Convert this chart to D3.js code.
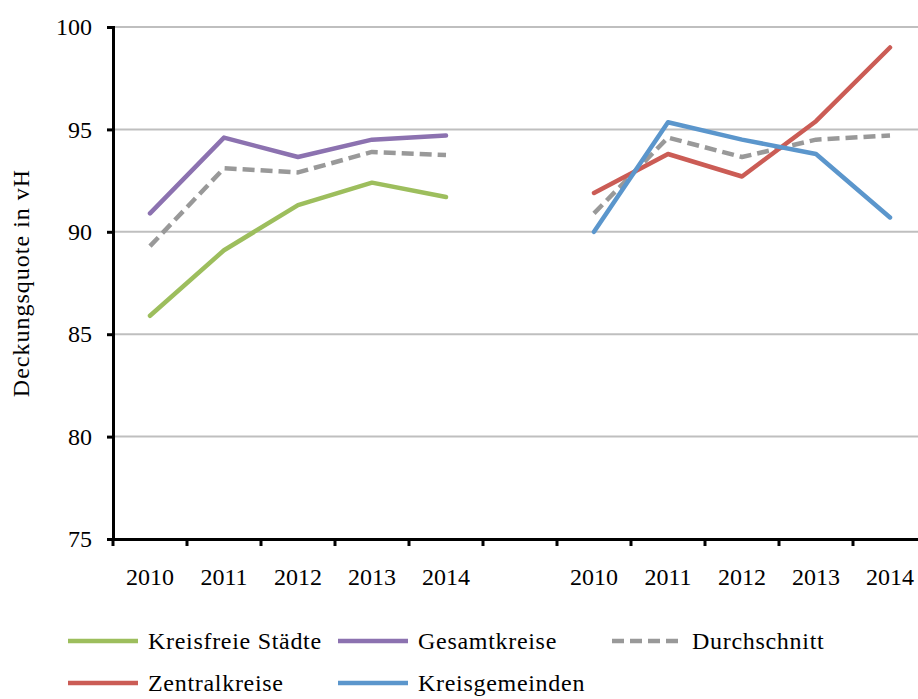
<!DOCTYPE html>
<html>
<head>
<meta charset="utf-8">
<script src="https://cdn.jsdelivr.net/npm/d3@7/dist/d3.min.js"></script>
<style>
  html, body { margin: 0; padding: 0; background: #fff; }
  svg { display: block; }
  text { font-family: "Liberation Serif", "Times New Roman", serif; fill: #000; }
</style>
</head>
<body>
<div id="chart"></div>
<script>
// ---- Data ----
const categoryKeys = ["L2010","L2011","L2012","L2013","L2014","gap","R2010","R2011","R2012","R2013","R2014"];
const categoryLabels = ["2010","2011","2012","2013","2014","","2010","2011","2012","2013","2014"];
const leftYears = ["L2010","L2011","L2012","L2013","L2014"];
const rightYears = ["R2010","R2011","R2012","R2013","R2014"];

const kreisfreieStaedte = [85.9, 89.1, 91.3, 92.4, 91.7];
const gesamtkreise      = [90.9, 94.6, 93.65, 94.5, 94.7];
const durchschnittLeft  = [89.3, 93.1, 92.9, 93.9, 93.75];
const zentralkreise     = [91.9, 93.8, 92.7, 95.4, 99.0];
const kreisgemeinden    = [90.0, 95.35, 94.5, 93.8, 90.7];
const durchschnittRight = [90.9, 94.6, 93.65, 94.5, 94.7];

const yTicks = [75, 80, 85, 90, 95, 100];

const seriesNames = ["Kreisfreie Städte", "Gesamtkreise", "Durchschnitt", "Zentralkreise", "Kreisgemeinden"];
const seriesColors = ["#9DBE5D", "#8C72B0", "#999999", "#CB5C55", "#5B96CC"];

// ---- Layout ----
const W = 918, H = 699;
const svg = d3.select("#chart").append("svg").attr("width", W).attr("height", H);

const x = d3.scaleBand().domain(categoryKeys).range([113, 927]).padding(0);
const y = d3.scaleLinear().domain([75, 100]).range([539, 27]);

// gridlines
svg.append("g").selectAll("line").data(yTicks.filter(t => t > 75)).join("line")
  .attr("x1", 113).attr("x2", W)
  .attr("y1", d => y(d)).attr("y2", d => y(d))
  .attr("stroke", "#BFBFBF").attr("stroke-width", 2);

// y axis
const yAxis = d3.axisLeft(y).tickValues(yTicks).tickSize(6).tickPadding(15);
const gy = svg.append("g").attr("transform", "translate(113,0)").call(yAxis);
gy.select(".domain").attr("stroke", "#000").attr("stroke-width", 3);
gy.selectAll(".tick line").attr("stroke", "#000").attr("stroke-width", 3);
gy.selectAll(".tick text").style("font-size", "24px").style("font-family", "Liberation Serif, serif").attr("fill", "#000");

// x axis
const xAxis = d3.axisBottom(x).tickSize(0).tickPadding(0).tickFormat((d, i) => categoryLabels[i]);
const gx = svg.append("g").attr("transform", "translate(0,539)").call(xAxis);
gx.select(".domain").attr("stroke", "#000").attr("stroke-width", 3);
gx.selectAll(".tick text").style("font-size", "24px").style("font-family", "Liberation Serif, serif")
  .attr("fill", "#000").attr("dy", "0").attr("y", 46);
// x tick marks at band boundaries
svg.append("g").selectAll("line").data(categoryKeys).join("line")
  .attr("x1", d => x(d)).attr("x2", d => x(d))
  .attr("y1", 539).attr("y2", 546)
  .attr("stroke", "#000").attr("stroke-width", 3);

// lines
const line = d3.line().x(d => x(d.k) + x.bandwidth() / 2).y(d => y(d.v));
function drawSeries(keys, values, color, dashed) {
  const data = keys.map((k, i) => ({ k, v: values[i] }));
  svg.append("path").datum(data)
    .attr("d", line)
    .attr("fill", "none")
    .attr("stroke", color)
    .attr("stroke-width", 4.5)
    .attr("stroke-linejoin", "round")
    .attr("stroke-linecap", dashed ? "butt" : "round")
    .attr("stroke-dasharray", dashed ? "12,6" : null);
}
drawSeries(leftYears, gesamtkreise, seriesColors[1], false);
drawSeries(leftYears, kreisfreieStaedte, seriesColors[0], false);
drawSeries(leftYears, durchschnittLeft, seriesColors[2], true);
drawSeries(rightYears, durchschnittRight, seriesColors[2], true);
drawSeries(rightYears, zentralkreise, seriesColors[3], false);
drawSeries(rightYears, kreisgemeinden, seriesColors[4], false);

// y label
svg.append("text")
  .attr("transform", "translate(29,283) rotate(-90)")
  .attr("text-anchor", "middle")
  .style("font-size", "24px")
  .style("letter-spacing", "1px")
  .text("Deckungsquote in vH");

// legend
const legendPos = [
  { x: 68, y: 641 }, { x: 338, y: 641 }, { x: 612, y: 641 },
  { x: 68, y: 683 }, { x: 338, y: 683 }
];
const lg = svg.append("g").selectAll("g").data(seriesNames).join("g")
  .attr("transform", (d, i) => `translate(${legendPos[i].x},${legendPos[i].y})`);
lg.append("line")
  .attr("x1", 0).attr("x2", 70).attr("y1", 0).attr("y2", 0)
  .attr("stroke", (d, i) => seriesColors[i])
  .attr("stroke-width", 4.5)
  .attr("stroke-dasharray", (d, i) => i === 2 ? "12,6" : null);
lg.append("text")
  .attr("x", 80).attr("y", 0).attr("dy", "0.35em")
  .style("font-size", "24px")
  .style("letter-spacing", "0.7px")
  .text(d => d);
</script>
</body>
</html>
